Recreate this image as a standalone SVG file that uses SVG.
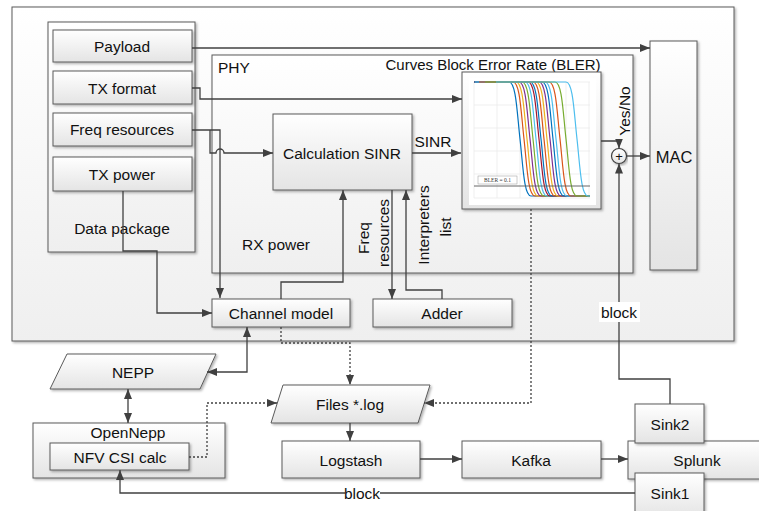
<svg xmlns="http://www.w3.org/2000/svg" xmlns:xlink="http://www.w3.org/1999/xlink" width="759" height="511" viewBox="0 0 759 511">
<defs>
<linearGradient id="g" x1="0" y1="0" x2="0" y2="1"><stop offset="0" stop-color="#ffffff"/><stop offset="1" stop-color="#e4e4e4"/></linearGradient>
<linearGradient id="gl" x1="0" y1="0" x2="0" y2="1"><stop offset="0" stop-color="#ffffff"/><stop offset="1" stop-color="#efefef"/></linearGradient>
<filter id="sh" x="-5%" y="-5%" width="115%" height="120%"><feDropShadow dx="1.5" dy="1.5" stdDeviation="0.8" flood-color="#000" flood-opacity="0.3"/></filter>
<marker id="ah" viewBox="0 0 10 10" refX="10" refY="5" markerWidth="10" markerHeight="10" markerUnits="userSpaceOnUse" orient="auto-start-reverse"><path d="M0,1 L10,5 L0,9 z" fill="#404040"/></marker>
<clipPath id="pc"><rect x="474" y="80" width="116" height="120"/></clipPath>
<path id="cv" d="M-70,0 H0 C7,0 8,30 11,57 C14,84 15,114 22,114 H90" fill="none"/>
<style>
.box{fill:url(#g);stroke:#5a5a5a;stroke-width:1;filter:url(#sh)}
.cont{fill:url(#gl);stroke:#5a5a5a;stroke-width:1;filter:url(#sh)}
.t{font-family:"Liberation Sans",Arial,sans-serif;font-size:15.5px;fill:#111;text-anchor:middle;dominant-baseline:central}
.ln{fill:none;stroke:#404040;stroke-width:1.3}
.a{marker-end:url(#ah)}
.d{stroke-dasharray:2 2}
.cu{stroke-width:1.2}
.lbl{fill:#fff}
</style>
</defs>

<g id="outer"><rect class="cont" x="12" y="7" width="722" height="334"/></g>
<g id="data-package"><rect class="cont" x="48" y="22" width="147" height="230"/><text class="t" x="122" y="228">Data package</text></g>
<g id="payload"><rect class="box" x="53" y="30" width="139" height="32"/><text class="t" x="122" y="46">Payload</text></g>
<g id="tx-format"><rect class="box" x="53" y="71" width="139" height="33"/><text class="t" x="122" y="88">TX format</text></g>
<g id="freq-resources"><rect class="box" x="53" y="113" width="139" height="33"/><text class="t" x="122" y="129">Freq resources</text></g>
<g id="tx-power"><rect class="box" x="53" y="157" width="139" height="34"/><text class="t" x="122" y="174">TX power</text></g>

<g id="phy"><rect class="cont" x="212" y="55" width="421" height="218"/><text class="t" x="218" y="67" style="text-anchor:start">PHY</text><text class="t" x="493" y="64" style="font-size:15px">Curves Block Error Rate (BLER)</text><text class="t" x="276" y="244">RX power</text></g>

<g id="mac"><rect class="box" x="650" y="41" width="47" height="229"/><text class="t" x="674" y="157" style="font-size:16.5px">MAC</text></g>

<g id="calc-sinr"><rect class="box" x="273" y="114" width="139" height="76"/><text class="t" x="342" y="153">Calculation SINR</text></g>

<g id="bler">
<rect class="box" x="462" y="72" width="139" height="137"/>
<rect x="469" y="78" width="127" height="127" fill="#fff"/>
<g stroke="#e8e8e8" stroke-width="0.7">
<path d="M474,82 V198 M497,82 V198 M520,82 V198 M543,82 V198 M566,82 V198 M589,82 V198"/>
<path d="M474,82 H590 M474,105 H590 M474,128 H590 M474,151 H590 M474,174 H590 M474,198 H590"/>
</g>
<g clip-path="url(#pc)" class="cu">
<use xlink:href="#cv" x="509" y="82" stroke="#0072BD"/>
<use xlink:href="#cv" x="513" y="82" stroke="#D95319"/>
<use xlink:href="#cv" x="516" y="82" stroke="#EDB120"/>
<use xlink:href="#cv" x="519" y="82" stroke="#7E2F8E"/>
<use xlink:href="#cv" x="522" y="82" stroke="#77AC30"/>
<use xlink:href="#cv" x="525" y="82" stroke="#4DBEEE"/>
<use xlink:href="#cv" x="528" y="82" stroke="#A2142F"/>
<use xlink:href="#cv" x="530" y="82" stroke="#0072BD"/>
<use xlink:href="#cv" x="533" y="82" stroke="#D95319"/>
<use xlink:href="#cv" x="536" y="82" stroke="#EDB120"/>
<use xlink:href="#cv" x="539" y="82" stroke="#7E2F8E"/>
<use xlink:href="#cv" x="542" y="82" stroke="#0072BD"/>
<use xlink:href="#cv" x="545" y="82" stroke="#4DBEEE"/>
<use xlink:href="#cv" x="549" y="82" stroke="#D95319"/>
<use xlink:href="#cv" x="555" y="82" stroke="#77AC30"/>
<use xlink:href="#cv" x="566" y="82" stroke="#4DBEEE"/>
</g>
<path d="M474,186 H590" stroke="#666" stroke-width="1"/>
<rect x="478" y="176" width="39" height="8" fill="#fff" stroke="#999" stroke-width="0.5"/>
<text x="497.5" y="180" style="font-family:'Liberation Serif',serif;font-size:5.5px;text-anchor:middle;dominant-baseline:central" fill="#333">BLER = 0.1</text>
</g>

<g id="channel-model"><rect class="box" x="212" y="299" width="138" height="28"/><text class="t" x="281" y="313">Channel model</text></g>
<g id="adder"><rect class="box" x="373" y="299" width="139" height="28"/><text class="t" x="442" y="313">Adder</text></g>

<g id="sum"><circle cx="619" cy="156" r="7.5" fill="url(#g)" stroke="#404040" stroke-width="1.2" filter="url(#sh)"/><text class="t" x="619" y="156" style="font-size:13px">+</text></g>

<g id="nepp"><polygon class="box" points="67,354 216,354 200,389 50,389"/><text class="t" x="133" y="372">NEPP</text></g>
<g id="opennepp"><rect class="box" x="33" y="423" width="192" height="55"/><text class="t" x="128" y="432">OpenNepp</text></g>
<g id="nfv-csi"><rect class="box" x="50" y="443" width="139" height="27"/><text class="t" x="120" y="457">NFV CSI calc</text></g>
<g id="files-log"><polygon class="box" points="283,385 430,385 418,423 271,423"/><text class="t" x="350" y="404">Files *.log</text></g>
<g id="logstash"><rect class="box" x="282" y="441" width="138" height="37"/><text class="t" x="351" y="460">Logstash</text></g>
<g id="kafka"><rect class="box" x="462" y="441" width="139" height="37"/><text class="t" x="531" y="460">Kafka</text></g>
<g id="splunk"><rect class="box" x="628" y="441" width="140" height="38"/><text class="t" x="697" y="460">Splunk</text></g>
<g id="sink2"><rect class="box" x="635" y="404" width="69" height="39"/><text class="t" x="670" y="424">Sink2</text></g>
<g id="sink1"><rect class="box" x="635" y="473" width="69" height="45"/><text class="t" x="670" y="493">Sink1</text></g>

<g id="connectors">
<path class="ln a" d="M192,48 H650"/>
<path class="ln a" d="M192,88 H200 V99 H462"/>
<path class="ln a" d="M192,130 H220 V298"/>
<path class="ln a" d="M210,130 V153 H216 A4,4 0 0 1 224,153 H273"/>
<path class="ln a" d="M123,191 V251 H157 V313 H212"/>
<path class="ln a" d="M281,299 V282 H343 V190"/>
<path class="ln a" d="M412,153 H461"/>
<path class="ln a" d="M392,190 V299"/>
<path class="ln a" d="M442,299 V290 H406 V190"/>
<path class="ln a" d="M601,141 H619 V148.5"/>
<path class="ln a" d="M626.5,156 H650"/>
<path class="ln a" d="M670,404 V379 H619 V163.5"/>
<path class="ln a d" d="M531,209 V403 H424"/>
<path class="ln a d" d="M281,327 V343 H350 V385"/>
<path class="ln a d" d="M189,457 H207 V403 H277"/>
<path class="ln a" d="M350,423 V441"/>
<path class="ln a" d="M420,459 H462"/>
<path class="ln a" d="M601,459 H628"/>
<path class="ln a" d="M635,493 H120 V470"/>
<path class="ln a" d="M207,372 H247 V327" style="marker-start:url(#ah)"/>
<path class="ln a" d="M128,389 V423" style="marker-start:url(#ah)"/>
</g>

<g id="labels">
<text class="t" x="433" y="141">SINR</text>
<text class="t" transform="translate(363,238) rotate(-90)">Freq</text>
<text class="t" transform="translate(383,233) rotate(-90)">resources</text>
<text class="t" transform="translate(423,225) rotate(-90)">Interpreters</text>
<text class="t" transform="translate(445,227) rotate(-90)">list</text>
<text class="t" transform="translate(624,111) rotate(-90)">Yes/No</text>
<rect class="lbl" x="599" y="302" width="41" height="20"/>
<text class="t" x="619" y="312">block</text>
<rect class="lbl" x="345" y="484" width="35" height="18"/>
<text class="t" x="362" y="493">block</text>
</g>
</svg>
